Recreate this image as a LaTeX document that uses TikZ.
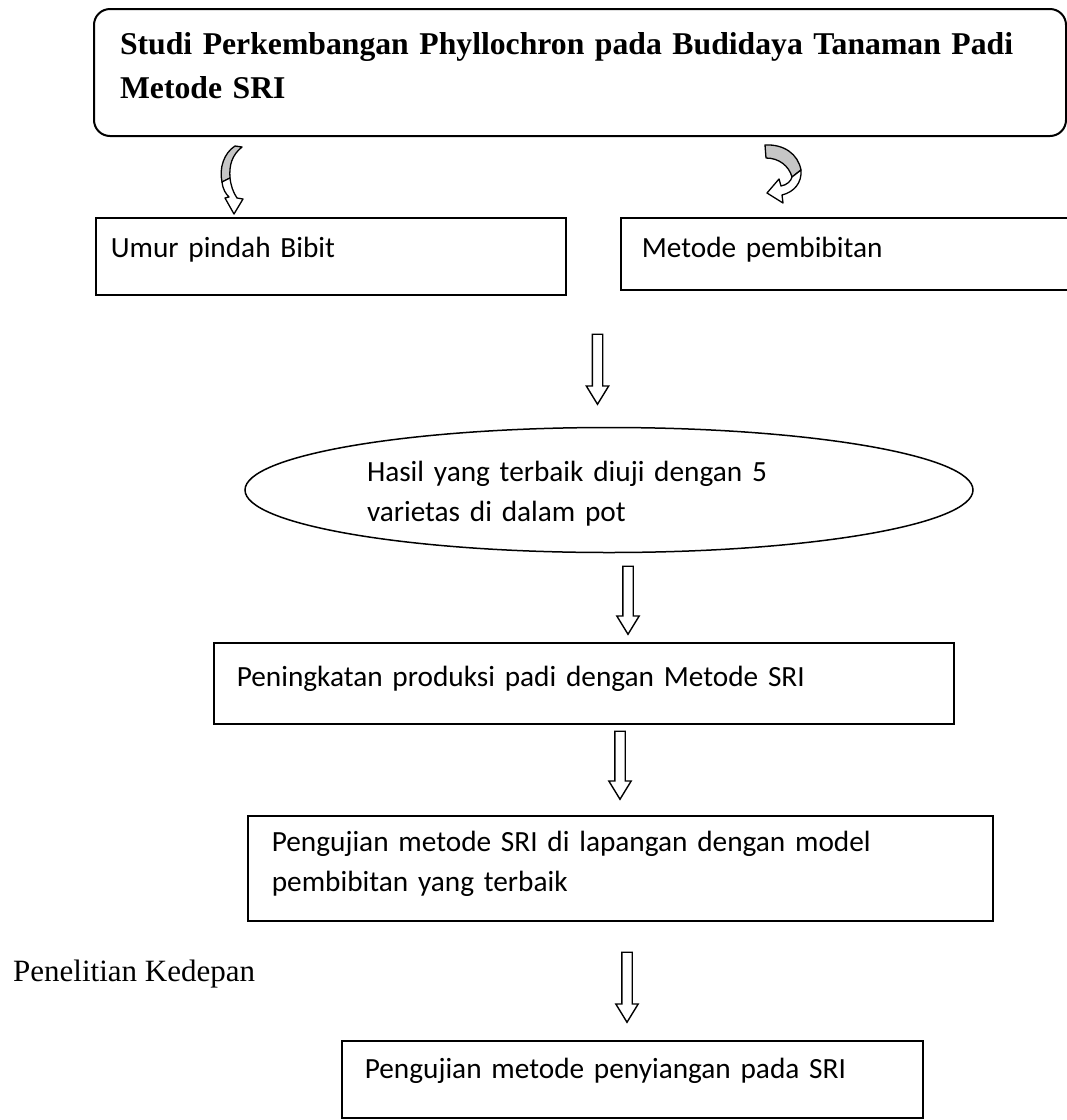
\documentclass[tikz,border=0pt]{standalone}
\usepackage{fontspec}
\setmainfont{Liberation Serif}
\newfontfamily\calibri{Carlito}
\usetikzlibrary{shapes.geometric,shapes.arrows}

\tikzset{
  kotak/.style={draw, line width=1.6pt, rectangle, anchor=north west,
    inner ysep=0pt, inner xsep=23pt, align=left, text height=24pt,
    font=\calibri\fontsize{29.3}{40}\selectfont},
  panah/.style={draw, line width=1.4pt, single arrow, rotate=-90,
    inner xsep=0pt, inner ysep=4.5pt, minimum width=22pt,
    single arrow head extend=6pt, single arrow tip angle=63},
  balik/.style={line width=1.3pt, line join=round},
}

\begin{document}
\begin{tikzpicture}[x=1pt, y=-1pt]
        \useasboundingbox (0,0) rectangle (1067,1120);
        \node (judul) [kotak, rounded corners=16pt, line width=2pt, inner xsep=26pt, minimum width=972pt, minimum height=127pt, text width=920pt, text depth=61pt, font=\bfseries\fontsize{31.7}{44}\selectfont] at (93,8) {Studi Perkembangan Phyllochron pada Budidaya Tanaman Padi\\Metode SRI};
        \node (umur) [kotak, inner xsep=15pt, minimum width=470pt, minimum height=77pt, text width=440pt, text depth=21pt] at (95,217) {Umur pindah Bibit};
        \node (metode) [kotak, inner xsep=21pt, minimum width=452pt, minimum height=72pt, text width=410pt, text depth=16pt] at (620,217) {Metode pembibitan};
        \node (a1) [panah, minimum height=70pt] at (597.5,365) {};
        \node (hasil) [ellipse, draw, line width=1.5pt, inner sep=0pt, minimum width=728pt, minimum height=125pt, text width=484pt, align=left, text height=24pt, text depth=42pt, font=\calibri\fontsize{29.3}{40}\selectfont] at (609,490) {Hasil yang terbaik diuji dengan 5\\varietas di dalam pot};
        \node (a2) [panah, minimum height=68pt] at (628,596) {};
        \node (naik) [kotak, minimum width=740pt, minimum height=81pt, text width=694pt, text depth=17pt] at (213,642) {Peningkatan produksi padi dengan Metode SRI};
        \node (a3) [panah, minimum height=68pt] at (620,761) {};
        \node (uji) [kotak, inner xsep=24pt, minimum width=745pt, minimum height=105pt, text width=697pt, text depth=57pt] at (247,815) {Pengujian metode SRI di lapangan dengan model\\pembibitan yang terbaik};
        \node (depan) [anchor=base west, inner sep=0pt, font=\fontsize{31}{36}\selectfont] at (13,981) {Penelitian Kedepan};
        \node (a4) [panah, minimum height=70pt] at (627,983) {};
        \node (siang) [kotak, minimum width=581pt, minimum height=77pt, text width=535pt, text depth=25pt] at (341,1040) {Pengujian metode penyiangan pada SRI};
        % lengkung kiri
        \filldraw[balik, fill=gray!45] (235,146) -- (242,147) .. controls (232,155) and (229,165) .. (230,178) -- (222,182) .. controls (219,168) and (224,153) .. (235,146) -- cycle;
        \filldraw[balik, fill=white] (222,182) .. controls (223,190) and (226,194) .. (229,197) -- (225,198) -- (234,214) -- (243,199) -- (237,198) .. controls (233,192) and (231,186) .. (230,178) -- cycle;
        % lengkung kanan
        \filldraw[balik, fill=gray!45] (765,145) .. controls (784,144) and (798,154) .. (801,170) -- (792,177) .. controls (789,166) and (779,158) .. (766,158) -- cycle;
        \filldraw[balik, fill=white] (801,170) .. controls (802,183) and (794,192) .. (782,195) -- (783,203) -- (767,193) -- (779,179) -- (781,186) .. controls (787,185) and (791,181) .. (792,177) -- cycle;
\end{tikzpicture}
\end{document}
